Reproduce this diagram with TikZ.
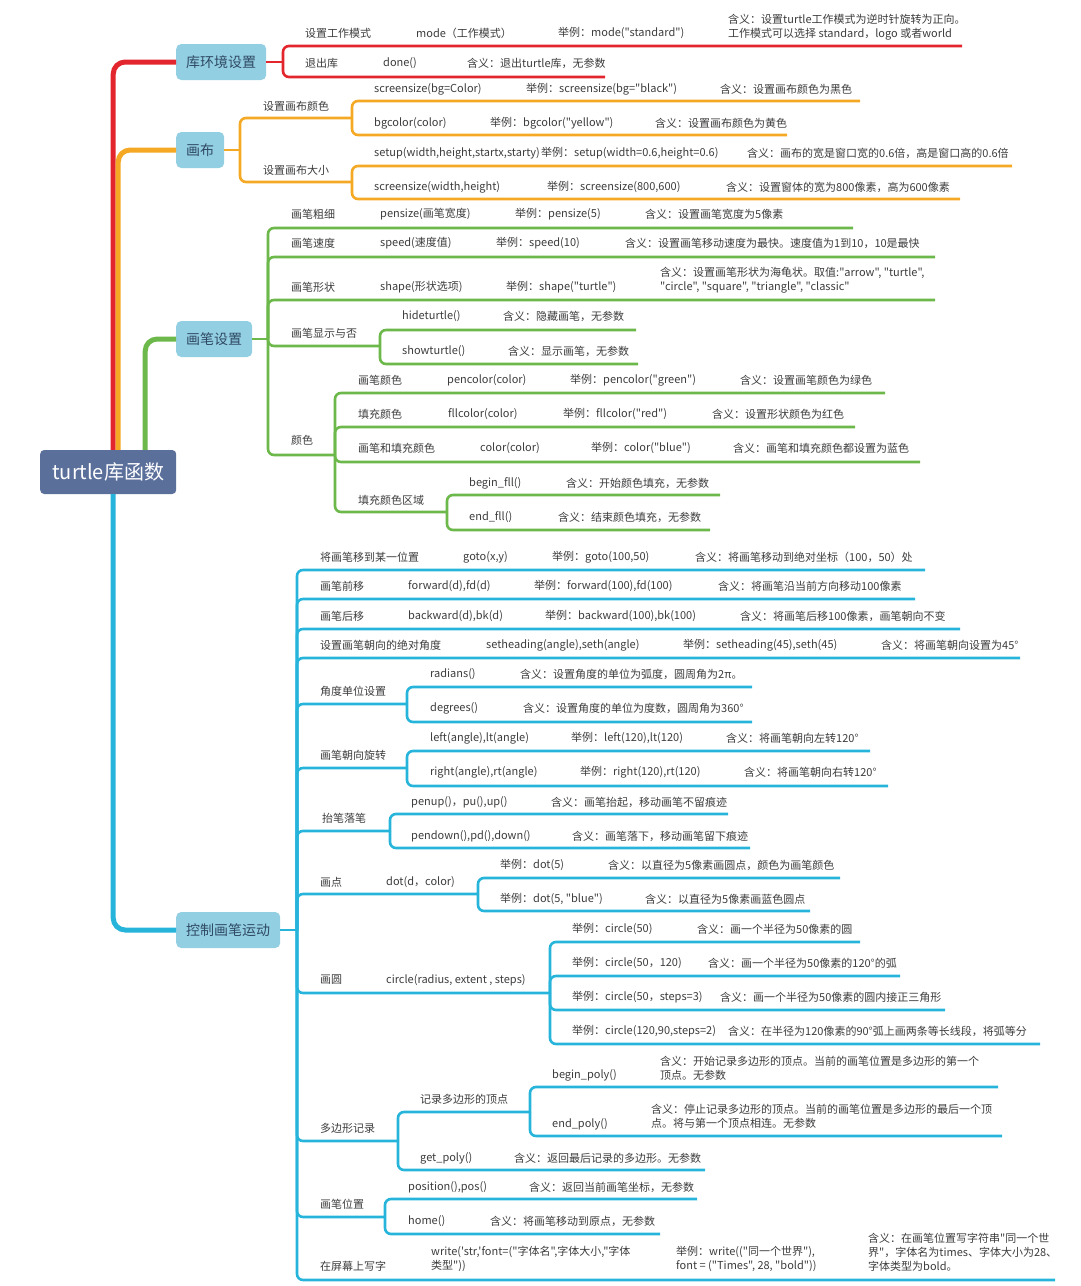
\documentclass[tikz,border=0pt]{standalone}
\usepackage{fontspec}
\newfontfamily\cjk{Noto Sans CJK SC}
\definecolor{libred}{HTML}{E3262D}
\definecolor{canvasorange}{HTML}{F5A824}
\definecolor{pengreen}{HTML}{6CB84A}
\definecolor{moveblue}{HTML}{27B4DB}
\definecolor{boxblue}{HTML}{93CFE3}
\definecolor{boxtext}{HTML}{2F4A63}
\definecolor{rootblue}{HTML}{5B6F9B}
\definecolor{txtgray}{HTML}{3C3C3C}

\begin{document}
\begin{tikzpicture}[x=1pt, y=-1pt, font=\cjk\fontsize{11}{14}\selectfont, text=txtgray]
      \tikzstyle{txt} = [anchor=west, inner sep=0pt, align=left]
      \tikzstyle{box} = [anchor=west, fill=boxblue, rounded corners=5pt, minimum height=36pt, inner xsep=10pt, text=boxtext, font=\cjk\fontsize{14}{16}\selectfont]
      \tikzstyle{rootbox} = [anchor=west, fill=rootblue, rounded corners=4pt, minimum width=136pt, minimum height=44pt, text=white, font=\cjk\fontsize{20}{24}\selectfont]
      \tikzstyle{branch} = [line width=2.6pt, rounded corners=6pt]
      \tikzstyle{trunk} = [line width=5pt, rounded corners=12pt]
      \useasboundingbox (0,0) rectangle (1080,1286);

      \node[rootbox] (root) at (40,472) {turtle库函数};
      \node[box] (lib) at (176,62) {库环境设置};
      \node[box] (canvas) at (176,150) {画布};
      \node[box] (pen) at (176,339) {画笔设置};
      \node[box] (move) at (176,930) {控制画笔运动};
      \draw[trunk, libred] ([xshift=5pt]root.north) |- (lib.west);
      \draw[trunk, canvasorange] ([xshift=10pt]root.north) |- (canvas.west);
      \draw[trunk, pengreen] ([xshift=37pt]root.north) |- (pen.west);
      \draw[trunk, moveblue] ([xshift=5pt]root.south) |- (move.west);

      % 库环境设置
      \coordinate (lib-j) at (283,62);
      \draw[branch, libred] (lib.east) -- (lib-j);
      \node[txt] (mode) at (305,33) {设置工作模式};
      \node[txt] (mode-f) at (416,33) {mode（工作模式）};
      \node[txt] (mode-e) at (558,33) {举例：mode("standard")};
      \node[txt] (mode-d) at (728,27) {含义：设置turtle工作模式为逆时针旋转为正向。\\工作模式可以选择 standard，logo 或者world};
      \coordinate (mode-u) at (962,46);
      \draw[branch, libred] (lib-j) |- (mode-u);
      \node[txt] (done) at (305,63) {退出库};
      \node[txt] (done-f) at (383,63) {done()};
      \node[txt] (done-d) at (467,63) {含义：退出turtle库，无参数};
      \coordinate (done-u) at (605,77);
      \draw[branch, libred] (lib-j) |- (done-u);

      % 画布
      \coordinate (canvas-j) at (240,150);
      \draw[branch, canvasorange] (canvas.east) -- (canvas-j);
      \node[txt] (bgc) at (263,106) {设置画布颜色};
      \coordinate (bgc-j) at (352,118);
      \draw[branch, canvasorange] (canvas-j) |- (bgc-j);
      \node[txt] (bgc1) at (374,89) {screensize(bg=Color)};
      \node[txt] (bgc1-e) at (526,89) {举例：screensize(bg="black")};
      \node[txt] (bgc1-d) at (720,89) {含义：设置画布颜色为黑色};
      \coordinate (bgc1-u) at (860,101);
      \draw[branch, canvasorange] (bgc-j) |- (bgc1-u);
      \node[txt] (bgc2) at (374,123) {bgcolor(color)};
      \node[txt] (bgc2-e) at (490,123) {举例：bgcolor("yellow")};
      \node[txt] (bgc2-d) at (655,123) {含义：设置画布颜色为黄色};
      \coordinate (bgc2-u) at (787,135);
      \draw[branch, canvasorange] (bgc-j) |- (bgc2-u);
      \node[txt] (size) at (263,170) {设置画布大小};
      \coordinate (size-j) at (352,182);
      \draw[branch, canvasorange] (canvas-j) |- (size-j);
      \node[txt] (size1) at (374,153) {setup(width,height,startx,starty)};
      \node[txt] (size1-e) at (541,153) {举例：setup(width=0.6,height=0.6)};
      \node[txt] (size1-d) at (747,153) {含义：画布的宽是窗口宽的0.6倍，高是窗口高的0.6倍};
      \coordinate (size1-u) at (1012,166);
      \draw[branch, canvasorange] (size-j) |- (size1-u);
      \node[txt] (size2) at (374,187) {screensize(width,height)};
      \node[txt] (size2-e) at (547,187) {举例：screensize(800,600)};
      \node[txt] (size2-d) at (726,187) {含义：设置窗体的宽为800像素，高为600像素};
      \coordinate (size2-u) at (960,199);
      \draw[branch, canvasorange] (size-j) |- (size2-u);

      % 画笔设置
      \coordinate (pen-j) at (268,339);
      \draw[branch, pengreen] (pen.east) -- (pen-j);
      \node[txt] (width) at (291,214) {画笔粗细};
      \node[txt] (width-f) at (380,214) {pensize(画笔宽度)};
      \node[txt] (width-e) at (515,214) {举例：pensize(5)};
      \node[txt] (width-d) at (645,214) {含义：设置画笔宽度为5像素};
      \coordinate (width-u) at (853,228);
      \draw[branch, pengreen] (pen-j) |- (width-u);
      \node[txt] (speed) at (291,243) {画笔速度};
      \node[txt] (speed-f) at (380,243) {speed(速度值)};
      \node[txt] (speed-e) at (496,243) {举例：speed(10)};
      \node[txt] (speed-d) at (625,243) {含义：设置画笔移动速度为最快。速度值为1到10，10是最快};
      \coordinate (speed-u) at (935,257);
      \draw[branch, pengreen] (pen-j) |- (speed-u);
      \node[txt] (shape) at (291,287) {画笔形状};
      \node[txt] (shape-f) at (380,287) {shape(形状选项)};
      \node[txt] (shape-e) at (506,287) {举例：shape("turtle")};
      \node[txt] (shape-d) at (660,280) {含义：设置画笔形状为海龟状。取值:"arrow", "turtle",\\"circle", "square", "triangle", "classic"};
      \coordinate (shape-u) at (935,300);
      \draw[branch, pengreen] (pen-j) |- (shape-u);
      \node[txt] (show) at (291,333) {画笔显示与否};
      \coordinate (show-j) at (380,346);
      \draw[branch, pengreen] (pen-j) |- (show-j);
      \node[txt] (show1) at (402,316) {hideturtle()};
      \node[txt] (show1-d) at (503,316) {含义：隐藏画笔，无参数};
      \coordinate (show1-u) at (636,330);
      \draw[branch, pengreen] (show-j) |- (show1-u);
      \node[txt] (show2) at (402,351) {showturtle()};
      \node[txt] (show2-d) at (508,351) {含义：显示画笔，无参数};
      \coordinate (show2-u) at (638,364);
      \draw[branch, pengreen] (show-j) |- (show2-u);
      \node[txt] (color) at (291,440) {颜色};
      \coordinate (color-j) at (335,455);
      \draw[branch, pengreen] (pen-j) |- (color-j);
      \node[txt] (color1) at (358,380) {画笔颜色};
      \node[txt] (color1-f) at (447,380) {pencolor(color)};
      \node[txt] (color1-e) at (570,380) {举例：pencolor("green")};
      \node[txt] (color1-d) at (740,380) {含义：设置画笔颜色为绿色};
      \coordinate (color1-u) at (885,393);
      \draw[branch, pengreen] (color-j) |- (color1-u);
      \node[txt] (color2) at (358,414) {填充颜色};
      \node[txt] (color2-f) at (448,414) {fllcolor(color)};
      \node[txt] (color2-e) at (563,414) {举例：fllcolor("red")};
      \node[txt] (color2-d) at (712,414) {含义：设置形状颜色为红色};
      \coordinate (color2-u) at (855,427);
      \draw[branch, pengreen] (color-j) |- (color2-u);
      \node[txt] (color3) at (358,448) {画笔和填充颜色};
      \node[txt] (color3-f) at (480,448) {color(color)};
      \node[txt] (color3-e) at (591,448) {举例：color("blue")};
      \node[txt] (color3-d) at (733,448) {含义：画笔和填充颜色都设置为蓝色};
      \coordinate (color3-u) at (920,462);
      \draw[branch, pengreen] (color-j) |- (color3-u);
      \node[txt] (fill) at (358,500) {填充颜色区域};
      \coordinate (fill-j) at (447,512);
      \draw[branch, pengreen] (color-j) |- (fill-j);
      \node[txt] (fill1) at (469,483) {begin\_fll()};
      \node[txt] (fill1-d) at (566,483) {含义：开始颜色填充，无参数};
      \coordinate (fill1-u) at (720,495);
      \draw[branch, pengreen] (fill-j) |- (fill1-u);
      \node[txt] (fill2) at (469,517) {end\_fll()};
      \node[txt] (fill2-d) at (558,517) {含义：结束颜色填充，无参数};
      \coordinate (fill2-u) at (710,530);
      \draw[branch, pengreen] (fill-j) |- (fill2-u);

      % 控制画笔运动
      \coordinate (move-j) at (297,930);
      \draw[branch, moveblue] (move.east) -- (move-j);
      \node[txt] (goto) at (320,557) {将画笔移到某一位置};
      \node[txt] (goto-f) at (463,557) {goto(x,y)};
      \node[txt] (goto-e) at (552,557) {举例：goto(100,50)};
      \node[txt] (goto-d) at (695,557) {含义：将画笔移动到绝对坐标（100，50）处};
      \coordinate (goto-u) at (925,570);
      \draw[branch, moveblue] (move-j) |- (goto-u);
      \node[txt] (fwd) at (320,586) {画笔前移};
      \node[txt] (fwd-f) at (408,586) {forward(d),fd(d)};
      \node[txt] (fwd-e) at (534,586) {举例：forward(100),fd(100)};
      \node[txt] (fwd-d) at (718,586) {含义：将画笔沿当前方向移动100像素};
      \coordinate (fwd-u) at (915,599);
      \draw[branch, moveblue] (move-j) |- (fwd-u);
      \node[txt] (bwd) at (320,616) {画笔后移};
      \node[txt] (bwd-f) at (408,616) {backward(d),bk(d)};
      \node[txt] (bwd-e) at (545,616) {举例：backward(100),bk(100)};
      \node[txt] (bwd-d) at (740,616) {含义：将画笔后移100像素，画笔朝向不变};
      \coordinate (bwd-u) at (960,629);
      \draw[branch, moveblue] (move-j) |- (bwd-u);
      \node[txt] (head) at (320,645) {设置画笔朝向的绝对角度};
      \node[txt] (head-f) at (486,645) {setheading(angle),seth(angle)};
      \node[txt] (head-e) at (683,645) {举例：setheading(45),seth(45)};
      \node[txt] (head-d) at (881,645) {含义：将画笔朝向设置为45°};
      \coordinate (head-u) at (1020,658);
      \draw[branch, moveblue] (move-j) |- (head-u);
      \node[txt] (unit) at (320,691) {角度单位设置};
      \coordinate (unit-j) at (407,704);
      \draw[branch, moveblue] (move-j) |- (unit-j);
      \node[txt] (unit1) at (430,674) {radians()};
      \node[txt] (unit1-d) at (520,674) {含义：设置角度的单位为弧度，圆周角为2π。};
      \coordinate (unit1-u) at (752,687);
      \draw[branch, moveblue] (unit-j) |- (unit1-u);
      \node[txt] (unit2) at (430,708) {degrees()};
      \node[txt] (unit2-d) at (523,708) {含义：设置角度的单位为度数，圆周角为360°};
      \coordinate (unit2-u) at (752,722);
      \draw[branch, moveblue] (unit-j) |- (unit2-u);
      \node[txt] (turn) at (320,755) {画笔朝向旋转};
      \coordinate (turn-j) at (407,768);
      \draw[branch, moveblue] (move-j) |- (turn-j);
      \node[txt] (turn1) at (430,738) {left(angle),lt(angle)};
      \node[txt] (turn1-e) at (571,738) {举例：left(120),lt(120)};
      \node[txt] (turn1-d) at (726,738) {含义：将画笔朝向左转120°};
      \coordinate (turn1-u) at (870,751);
      \draw[branch, moveblue] (turn-j) |- (turn1-u);
      \node[txt] (turn2) at (430,772) {right(angle),rt(angle)};
      \node[txt] (turn2-e) at (580,772) {举例：right(120),rt(120)};
      \node[txt] (turn2-d) at (744,772) {含义：将画笔朝向右转120°};
      \coordinate (turn2-u) at (888,786);
      \draw[branch, moveblue] (turn-j) |- (turn2-u);
      \node[txt] (updown) at (322,818) {抬笔落笔};
      \coordinate (updown-j) at (390,831);
      \draw[branch, moveblue] (move-j) |- (updown-j);
      \node[txt] (updown1) at (411,802) {penup()，pu(),up()};
      \node[txt] (updown1-d) at (551,802) {含义：画笔抬起，移动画笔不留痕迹};
      \coordinate (updown1-u) at (728,814);
      \draw[branch, moveblue] (updown-j) |- (updown1-u);
      \node[txt] (updown2) at (411,836) {pendown(),pd(),down()};
      \node[txt] (updown2-d) at (572,836) {含义：画笔落下，移动画笔留下痕迹};
      \coordinate (updown2-u) at (750,848);
      \draw[branch, moveblue] (updown-j) |- (updown2-u);
      \node[txt] (dot) at (320,882) {画点};
      \node[txt] (dot-f) at (386,882) {dot(d，color)};
      \coordinate (dot-j) at (478,894);
      \draw[branch, moveblue] (move-j) |- (dot-j);
      \node[txt] (dot1) at (500,865) {举例：dot(5)};
      \node[txt] (dot1-d) at (608,865) {含义：以直径为5像素画圆点，颜色为画笔颜色};
      \coordinate (dot1-u) at (840,878);
      \draw[branch, moveblue] (dot-j) |- (dot1-u);
      \node[txt] (dot2) at (500,899) {举例：dot(5, "blue")};
      \node[txt] (dot2-d) at (645,899) {含义：以直径为5像素画蓝色圆点};
      \coordinate (dot2-u) at (810,911);
      \draw[branch, moveblue] (dot-j) |- (dot2-u);
      \node[txt] (circ) at (320,980) {画圆};
      \node[txt] (circ-f) at (386,980) {circle(radius, extent , steps)};
      \coordinate (circ-j) at (550,993);
      \draw[branch, moveblue] (move-j) |- (circ-j);
      \node[txt] (circ1) at (572,929) {举例：circle(50)};
      \node[txt] (circ1-d) at (697,929) {含义：画一个半径为50像素的圆};
      \coordinate (circ1-u) at (860,942);
      \draw[branch, moveblue] (circ-j) |- (circ1-u);
      \node[txt] (circ2) at (572,963) {举例：circle(50，120)};
      \node[txt] (circ2-d) at (708,963) {含义：画一个半径为50像素的120°的弧};
      \coordinate (circ2-u) at (900,976);
      \draw[branch, moveblue] (circ-j) |- (circ2-u);
      \node[txt] (circ3) at (572,997) {举例：circle(50，steps=3)};
      \node[txt] (circ3-d) at (720,997) {含义：画一个半径为50像素的圆内接正三角形};
      \coordinate (circ3-u) at (945,1010);
      \draw[branch, moveblue] (circ-j) |- (circ3-u);
      \node[txt] (circ4) at (572,1031) {举例：circle(120,90,steps=2)};
      \node[txt] (circ4-d) at (728,1031) {含义：在半径为120像素的90°弧上画两条等长线段，将弧等分};
      \coordinate (circ4-u) at (1040,1044);
      \draw[branch, moveblue] (circ-j) |- (circ4-u);
      \node[txt] (poly) at (320,1128) {多边形记录};
      \coordinate (poly-j) at (398,1141);
      \draw[branch, moveblue] (move-j) |- (poly-j);
      \node[txt] (vert) at (420,1099) {记录多边形的顶点};
      \coordinate (vert-j) at (530,1112);
      \draw[branch, moveblue] (poly-j) |- (vert-j);
      \node[txt] (vert1) at (552,1075) {begin\_poly()};
      \node[txt] (vert1-d) at (660,1068) {含义：开始记录多边形的顶点。当前的画笔位置是多边形的第一个\\顶点。无参数};
      \coordinate (vert1-u) at (998,1087);
      \draw[branch, moveblue] (vert-j) |- (vert1-u);
      \node[txt] (vert2) at (552,1124) {end\_poly()};
      \node[txt] (vert2-d) at (651,1116) {含义：停止记录多边形的顶点。当前的画笔位置是多边形的最后一个顶\\点。将与第一个顶点相连。无参数};
      \coordinate (vert2-u) at (1002,1136);
      \draw[branch, moveblue] (vert-j) |- (vert2-u);
      \node[txt] (getpoly) at (420,1158) {get\_poly()};
      \node[txt] (getpoly-d) at (514,1158) {含义：返回最后记录的多边形。无参数};
      \coordinate (getpoly-u) at (705,1170);
      \draw[branch, moveblue] (poly-j) |- (getpoly-u);
      \node[txt] (pos) at (320,1204) {画笔位置};
      \coordinate (pos-j) at (385,1217);
      \draw[branch, moveblue] (move-j) |- (pos-j);
      \node[txt] (pos1) at (408,1187) {position(),pos()};
      \node[txt] (pos1-d) at (529,1187) {含义：返回当前画笔坐标，无参数};
      \coordinate (pos1-u) at (697,1199);
      \draw[branch, moveblue] (pos-j) |- (pos1-u);
      \node[txt] (pos2) at (408,1221) {home()};
      \node[txt] (pos2-d) at (490,1221) {含义：将画笔移动到原点，无参数};
      \coordinate (pos2-u) at (660,1234);
      \draw[branch, moveblue] (pos-j) |- (pos2-u);
      \node[txt] (write) at (320,1266) {在屏幕上写字};
      \node[txt] (write-f) at (431,1259) {write('str,'font=("字体名",字体大小,"字体\\类型"))};
      \node[txt] (write-e) at (676,1259) {举例：write(("同一个世界"),\\font = ("Times", 28, "bold"))};
      \node[txt] (write-d) at (868,1252) {含义：在画笔位置写字符串"同一个世\\界"，字体名为times、字体大小为28、\\字体类型为bold。};
      \coordinate (write-u) at (1055,1280);
      \draw[branch, moveblue] (move-j) |- (write-u);
\end{tikzpicture}
\end{document}
